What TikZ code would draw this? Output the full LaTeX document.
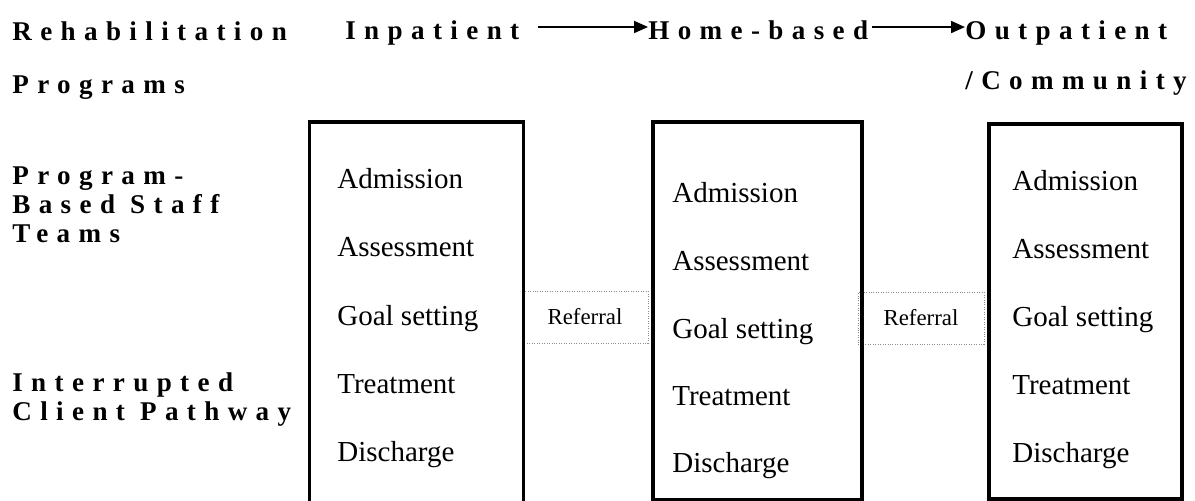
\documentclass[tikz,border=0pt]{standalone}
\usepackage{fontspec}
\setmainfont{Liberation Serif}
\newfontfamily\headfont{Liberation Serif}[LetterSpace=31]
\usetikzlibrary{arrows.meta,positioning,calc}

\begin{document}
\begin{tikzpicture}[
    head/.style={font=\headfont\bfseries\fontsize{15.4}{16.5}\selectfont, align=left, inner sep=0pt},
    stagebox/.style={draw=black, line width=2.2pt, anchor=north west, inner sep=0pt},
    stage/.style={font=\fontsize{16.5}{19}\selectfont, anchor=base west, inner sep=0pt},
    referral/.style={draw=black!45, densely dotted, fill=white, font=\fontsize{13}{15}\selectfont, minimum width=2.52cm, minimum height=1.04cm, inner sep=0pt},
    arrow/.style={-{Triangle[length=2.8mm, width=2.4mm]}, line width=1pt}
]
\useasboundingbox (0,0) rectangle (23.9,-10.02);
% row and column headings
\node[head, anchor=north west, font=\headfont\bfseries\fontsize{15.4}{30}\selectfont] (progtitle) at (0.24,-0.434) {Rehabilitation\\Programs};
\node[head, anchor=north west] (teamtitle) at (0.24,-3.334) {Program-\\Based Staff\\Teams};
\node[head, anchor=north west] (pathtitle) at (0.24,-7.454) {Interrupted\\Client Pathway};
\node[head, anchor=base west] (inp) at (6.9,-0.8) {Inpatient};
\node[head, anchor=base west] (home) at (12.96,-0.8) {Home-based};
\node[head, anchor=base west] (outp) at (19.3,-0.8) {Outpatient};
\node[head, anchor=base west] (comm) at (19.3,-1.8) {/Community};
\draw[arrow] ($(inp.east)+(0.36,0.13)$) -- ($(inp.east -| home.west)+(0,0.13)$);
\draw[arrow] ($(home.east)+(0.06,0.074)$) -- ($(home.east -| outp.west)+(0,0.074)$);
% referral links between the programs
\node[referral] (ref1) at (11.7,-6.34) {Referral};
\node[referral] (ref2) at (18.42,-6.36) {Referral};
% program boxes
\node[stagebox, minimum width=4.28cm, minimum height=7.8cm] (inbox) at (6.15,-2.4) {};
\node[stagebox, minimum width=4.18cm, minimum height=7.56cm] (homebox) at (13.02,-2.4) {};
\node[stagebox, minimum width=3.86cm, minimum height=7.5cm] (outbox) at (19.74,-2.44) {};
% inpatient stages
\node[stage] (in1) at (6.74,-3.76) {Admission};
\node[stage] (in2) at (6.74,-5.12) {Assessment};
\node[stage] (in3) at (6.74,-6.50) {Goal setting};
\node[stage] (in4) at (6.74,-7.86) {Treatment};
\node[stage] (in5) at (6.74,-9.22) {Discharge};
% home-based stages
\node[stage] (home1) at (13.44,-4.04) {Admission};
\node[stage] (home2) at (13.44,-5.40) {Assessment};
\node[stage] (home3) at (13.44,-6.76) {Goal setting};
\node[stage] (home4) at (13.44,-8.10) {Treatment};
\node[stage] (home5) at (13.44,-9.44) {Discharge};
% outpatient stages
\node[stage] (out1) at (20.24,-3.80) {Admission};
\node[stage] (out2) at (20.24,-5.16) {Assessment};
\node[stage] (out3) at (20.24,-6.52) {Goal setting};
\node[stage] (out4) at (20.24,-7.88) {Treatment};
\node[stage] (out5) at (20.24,-9.24) {Discharge};
\end{tikzpicture}
\end{document}
